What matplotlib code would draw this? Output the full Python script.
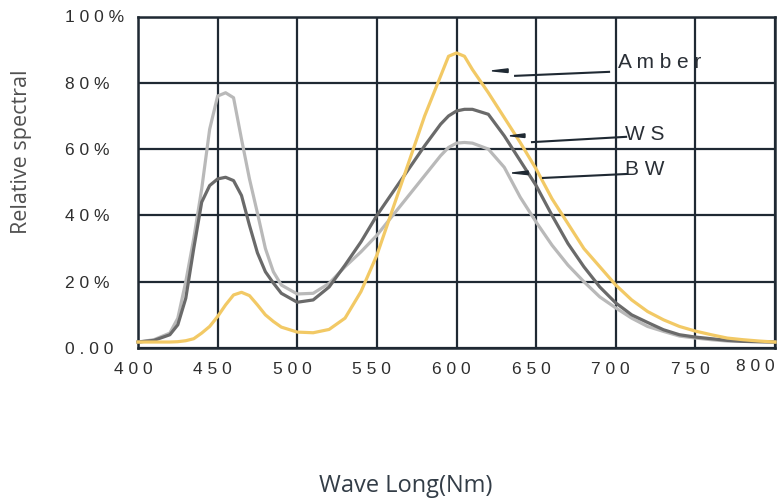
import matplotlib.pyplot as plt
from matplotlib.transforms import ScaledTranslation

# wavelength grid (nm) and relative spectral values (%)
wave = [400, 410, 420, 425, 430, 435, 440, 445, 450, 455, 460, 465, 470, 475,
        480, 485, 490, 500, 510, 520, 530, 540, 550, 560, 570, 580, 590, 595,
        600, 605, 610, 620, 630, 640, 650, 660, 670, 680, 690, 700, 710, 720,
        730, 740, 750, 760, 770, 780, 790, 800]

bw = [1.8, 2.5, 4.5, 9, 20, 33, 48, 66, 76, 77, 75.5, 63, 51, 40.7,
      30, 23, 19, 16.3, 16.5, 19.5, 24.5, 29, 34, 40, 46, 52, 58, 60.5,
      61.8, 62, 61.8, 60, 54.5, 45.5, 38, 31, 25, 20, 15.4, 12.1, 9, 6.5,
      5, 3.6, 3, 2.5, 2.1, 2, 1.9, 1.8]

ws = [1.8, 2.3, 4, 7, 15, 30, 44, 49, 51, 51.5, 50.5, 46, 37, 28.7,
      23, 19.6, 16.5, 13.8, 14.5, 18.4, 25, 32, 40, 47, 54, 61, 67.5, 70,
      71.5, 72, 72, 70.5, 64, 56.5, 49, 40, 31.5, 24.5, 18.4, 13.6, 10, 7.7,
      5.5, 4, 3.3, 2.8, 2.3, 2, 1.9, 1.8]

amber = [1.8, 1.8, 1.8, 1.9, 2.2, 2.8, 4.5, 6.5, 9.5, 13, 16, 16.8, 15.8, 13,
         10, 8, 6.3, 4.8, 4.6, 5.6, 9, 17, 28, 42, 56, 70, 82, 88,
         89, 88, 84, 77, 69.5, 62, 54, 45, 37.5, 30, 24.5, 19, 14.5, 11,
         8.5, 6.5, 5.1, 4, 3, 2.5, 2.1, 1.8]

xticks = [400, 450, 500, 550, 600, 650, 700, 750, 800]
yticks = [0, 20, 40, 60, 80, 100]
ytick_labels = ["0.00", "20%", "40%", "60%", "80%", "100%"]

grid_col = "#1f2933"
tick_col = "#2e2e2e"

fig = plt.figure(figsize=(7.78, 5), dpi=100)
ax = fig.add_axes([138 / 778, 1 - 348 / 500, 637 / 778, 331.5 / 500])

ax.plot(wave, bw, color="#b9b9b9", lw=2.3, clip_on=False, zorder=3)
ax.plot(wave, ws, color="#6a6a6a", lw=2.3, clip_on=False, zorder=4)
ax.plot(wave, amber, color="#f2c965", lw=2.3, clip_on=False, zorder=5)

ax.set_xlim(400, 800)
ax.set_ylim(0, 100)
ax.set_xticks(xticks)
ax.set_yticks(yticks)
ax.set_xticklabels([" ".join(str(t)) for t in xticks], fontsize=12.5,
                   family="Liberation Sans", color=tick_col)
ax.set_yticklabels([" ".join(t) for t in ytick_labels], fontsize=12.5,
                   family="Liberation Sans", color=tick_col)
ax.tick_params(length=0)
ax.tick_params(axis="x", pad=10)
ax.tick_params(axis="y", pad=52.5)
for lab in ax.get_yticklabels():
    lab.set_horizontalalignment("left")

# x labels sit a little left of the grid lines
for lab in ax.get_xticklabels():
    dx, dy = -5, 0
    if lab.get_text().replace(" ", "") == "800":
        dx, dy = -20, 3
    lab.set_transform(lab.get_transform() + ScaledTranslation(dx / 100, dy / 100, fig.dpi_scale_trans))

ax.grid(True, color=grid_col, lw=1.6)
ax.set_axisbelow(True)
for s in ax.spines.values():
    s.set_color(grid_col)
    s.set_linewidth(1.8)

# labels with leader lines
notes = [
    ("A m b e r", 701.4, 86.0, (636.8, 82.1), (695.8, 83.3), 622.3, 632.4, 83.6),
    ("W S", 705.8, 64.3, (647.4, 62.1), (706.5, 63.7), 633.6, 643.0, 64.0),
    ("B W", 705.8, 53.7, (654.3, 51.3), (707.1, 52.5), 634.9, 645.0, 52.8),
]
for txt, tx, ty, p0, p1, tip, base, ay in notes:
    ax.text(tx, ty, txt, fontsize=15, family="Liberation Sans",
            color="#2a2f36", va="center", ha="left", zorder=6)
    ax.plot([p0[0], p1[0]], [p0[1], p1[1]], color=grid_col, lw=1.5, zorder=6)
    ax.fill([tip, base, base], [ay, ay + 0.6, ay - 0.5], color=grid_col, zorder=6)

fig.text(22 / 778, 1 - 152 / 500, "Relative spectral", rotation=90,
         fontsize=15.5, family="Open Sans", color="#505050", ha="center", va="center")
fig.text(406 / 778, 1 - 486 / 500, "Wave Long(Nm)", fontsize=17,
         family="Open Sans", color="#333d47", ha="center", va="center")

fig.savefig("out.png", dpi=100)
